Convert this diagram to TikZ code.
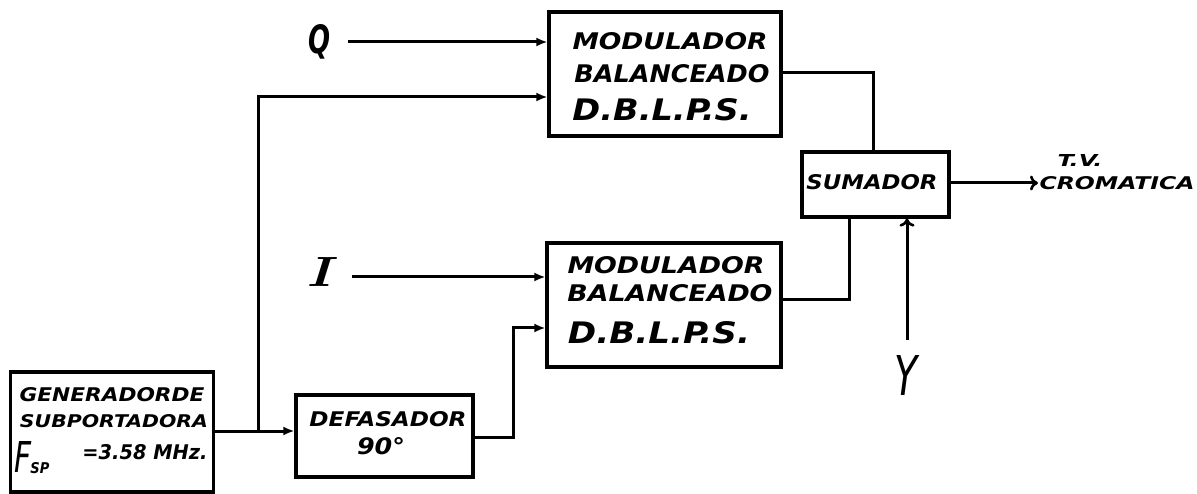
\documentclass[tikz,border=0pt]{standalone}
\usepackage{fontspec}
\setsansfont{DejaVu Sans}
\usetikzlibrary{arrows.meta}
\newcommand\rt[3]{\resizebox{#1pt}{#2pt}{\sffamily\bfseries\itshape #3}}
\begin{document}
\begin{tikzpicture}[x=1pt,y=-1pt,line width=3pt,
  blk/.style={draw,line width=3.2pt,inner sep=0pt},
  txt/.style={inner sep=0pt},
  ar/.style={-{Latex[length=11pt,width=9pt]}},
  oar/.style={-{To[length=8pt,width=15pt,line width=2.6pt]}}]
\useasboundingbox[fill=white] (0,0) rectangle (1197,494);
% boxes
\node[blk,minimum width=203pt,minimum height=120pt] (gen) at (112,432) {};
\node[blk,minimum width=177pt,minimum height=82pt] (def) at (384.5,436) {};
\node[blk,minimum width=232pt,minimum height=124pt] (mod1) at (665,74) {};
\node[blk,minimum width=234pt,minimum height=124pt] (mod2) at (664,305) {};
\node[blk,minimum width=147pt,minimum height=65pt] (sum) at (875.5,184.5) {};
% box texts
\node[txt] (g1) at (112,395) {\rt{185}{14}{GENERADORDE}};
\node[txt] (g2) at (114,421) {\rt{188}{13}{SUBPORTADORA}};
\node[txt] (g3) at (23,457) {\resizebox{17pt}{31pt}{\sffamily\itshape F}};
\node[txt] (g4) at (40,468) {\rt{19}{11}{SP}};
\node[txt] (g5) at (145,452) {\rt{125}{15}{=3.58 MHz.}};
\node[txt] (m11) at (670,41) {\rt{195}{17}{MODULADOR}};
\node[txt] (m12) at (672,74) {\rt{195}{18}{BALANCEADO}};
\node[txt] (m13) at (662,110) {\rt{179}{22}{D.B.L.P.S.}};
\node[txt] (m21) at (666,265) {\rt{197}{17}{MODULADOR}};
\node[txt] (m22) at (670,293) {\rt{205}{17}{BALANCEADO}};
\node[txt] (m23) at (659,333) {\rt{182}{22}{D.B.L.P.S.}};
\node[txt] (d1) at (388,419) {\rt{157}{15}{DEFASADOR}};
\node[txt] (d2) at (381,446) {\rt{48}{17}{90°}};
\node[txt] (s1) at (872,182) {\rt{131}{15}{SUMADOR}};
% signal labels
\node[txt] (q) at (319,42) {\resizebox{22pt}{29pt}{\sffamily\bfseries\itshape Q}};
\node[txt] (i) at (319,272) {\resizebox{25pt}{29pt}{\bfseries\itshape I}};
\node[txt] (y) at (906,375) {\resizebox{23pt}{40pt}{\sffamily\itshape Y}};
\node[txt] (tv) at (1080,161) {\rt{45}{12}{T.V.}};
\node[txt] (cr) at (1117,183.5) {\rt{155}{13}{CROMATICA}};
% connectors
\coordinate (br) at (258,431);
\coordinate (d1c) at (513,437);
\coordinate (m1o) at (873,73);
\coordinate (m2o) at (849,300);
\coordinate (ytop) at (907,340);
\coordinate (oend) at (1038,183);
\draw[ar] (gen.east |- br) -- (def.west |- br);
\draw[ar] (br) |- (mod1.west |- 0,97);
\draw[ar] (348,42) -- (mod1.west |- 0,42);
\draw[ar] (352,277) -- (mod2.west |- 0,277);
\draw[ar] (def.east |- d1c) -- (d1c) |- (mod2.west |- 0,328);
\draw (mod1.east |- m1o) -| (sum.north -| m1o);
\draw (mod2.east |- m2o) -| (sum.south -| m2o);
\draw[oar] (ytop) -- (sum.south -| ytop);
\draw[oar] (sum.east |- oend) -- (oend);
\end{tikzpicture}
\end{document}
